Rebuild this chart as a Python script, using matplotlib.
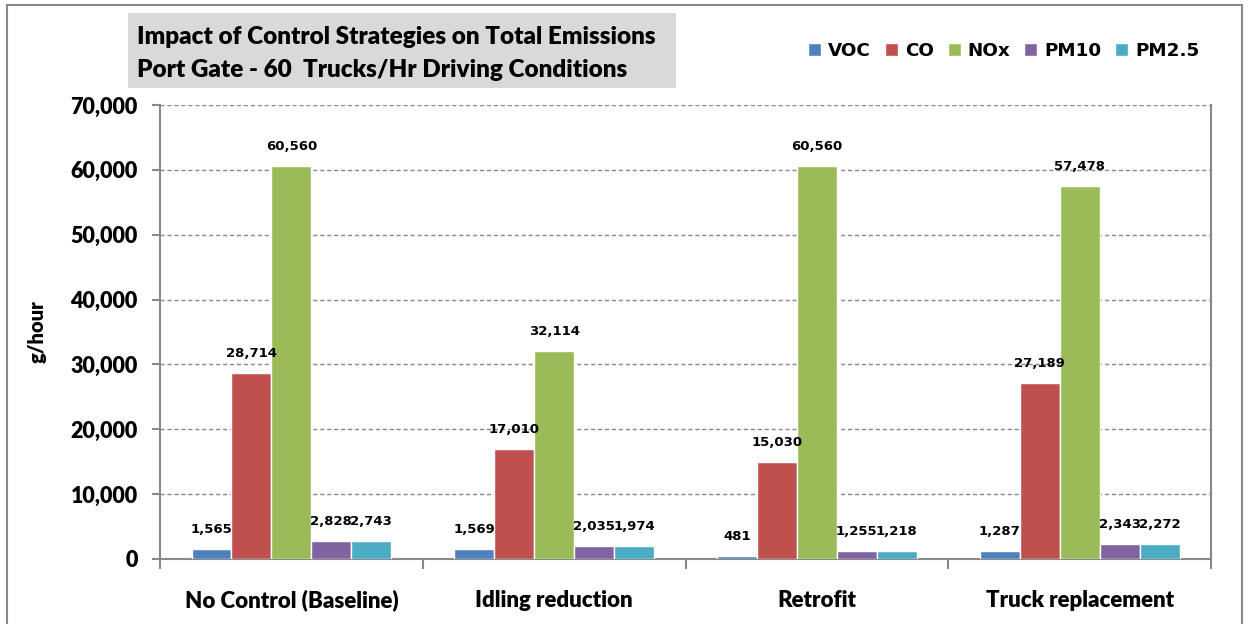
import numpy as np
import matplotlib
matplotlib.use("Agg")
import matplotlib.pyplot as plt
from matplotlib.patches import Rectangle
from matplotlib.ticker import FuncFormatter, FixedLocator

categories = ["No Control (Baseline)", "Idling reduction", "Retrofit", "Truck replacement"]
series_names = ["VOC", "CO", "NOx", "PM10", "PM2.5"]
voc = [1565, 1569, 481, 1287]
co = [28714, 17010, 15030, 27189]
nox = [60560, 32114, 60560, 57478]
pm10 = [2828, 2035, 1255, 2343]
pm25 = [2743, 1974, 1218, 2272]
colors = ["#4F81BD", "#C0504D", "#9BBB59", "#8064A2", "#4BACC6"]

title_lines = ["Impact of Control Strategies on Total Emissions",
               "Port Gate - 60  Trucks/Hr Driving Conditions"]

main_font = "Lato"
label_font = "DejaVu Sans"
heavy = 800
grey = "#898989"

fig = plt.figure(figsize=(12.48, 6.24), dpi=100)
ax = fig.add_axes([0.1282, 0.1042, 0.8422, 0.7275])

x = np.arange(len(categories))
w = 0.152
all_series = [voc, co, nox, pm10, pm25]
for i, (name, vals, c) in enumerate(zip(series_names, all_series, colors)):
    pos = x + (i - 2) * w
    ax.bar(pos, vals, width=w, color=c, edgecolor="white", linewidth=1,
           label=name, zorder=3)
    for px, v in zip(pos, vals):
        ax.annotate(f"{v:,}", (px, v), xytext=(0, 14), textcoords="offset points",
                    ha="center", va="center", fontsize=9.5, fontweight="bold",
                    family=label_font, color="black", zorder=4)

ax.set_xlim(-0.5, len(categories) - 0.5)
ax.set_ylim(0, 70000)
ax.set_yticks(np.arange(0, 70001, 10000))
ax.yaxis.set_major_formatter(FuncFormatter(lambda v, p: f"{int(v):,}"))
ax.set_xticks(x)
ax.set_xticklabels(categories)
ax.xaxis.set_minor_locator(FixedLocator(np.arange(-0.5, len(categories), 1.0)))
ax.tick_params(axis="x", which="major", length=0, pad=22)
ax.tick_params(axis="x", which="minor", length=7, width=1.5, color=grey)
ax.tick_params(axis="y", length=6, width=1.5, color=grey, pad=10)
for lab in ax.get_yticklabels():
    lab.set_fontfamily(main_font)
    lab.set_fontweight(heavy)
    lab.set_fontsize(15.5)
for lab in ax.get_xticklabels():
    lab.set_fontfamily(main_font)
    lab.set_fontweight(heavy)
    lab.set_fontsize(16)

ax.grid(axis="y", linestyle=(0, (3, 2)), color=grey, linewidth=1, zorder=0)
for s in ["left", "bottom", "right"]:
    ax.spines[s].set_color(grey)
    ax.spines[s].set_linewidth(1.5)
ax.spines["top"].set_visible(False)

ax.set_ylabel("g/hour", fontsize=14.5, fontweight=heavy, family=main_font, labelpad=17)

ax.legend(loc="center", bbox_to_anchor=(1004 / 1248, 1 - 51 / 624),
          bbox_transform=fig.transFigure, ncol=5, frameon=False,
          handlelength=0.7, handleheight=0.7, handletextpad=0.4,
          columnspacing=0.75, prop={"family": label_font, "weight": "bold", "size": 13.2})

# title box
fig.patches.append(Rectangle((128 / 1248, 1 - 88 / 624), 548 / 1248, 75 / 624,
                             transform=fig.transFigure, facecolor="#D9D9D9",
                             edgecolor="none", zorder=0))
fig.text(137 / 1248, 1 - 37 / 624, title_lines[0], fontsize=17.5, fontweight=heavy,
         family=main_font, va="center", ha="left")
fig.text(137 / 1248, 1 - 70 / 624, title_lines[1], fontsize=17.5, fontweight=heavy,
         family=main_font, va="center", ha="left")

# outer frame
fig.patches.append(Rectangle((7 / 1248, -0.05), 1235 / 1248, 1.05 - 5 / 624,
                             transform=fig.transFigure, facecolor="none",
                             edgecolor=grey, linewidth=1.5, zorder=0))

fig.savefig("out.png", dpi=100)
